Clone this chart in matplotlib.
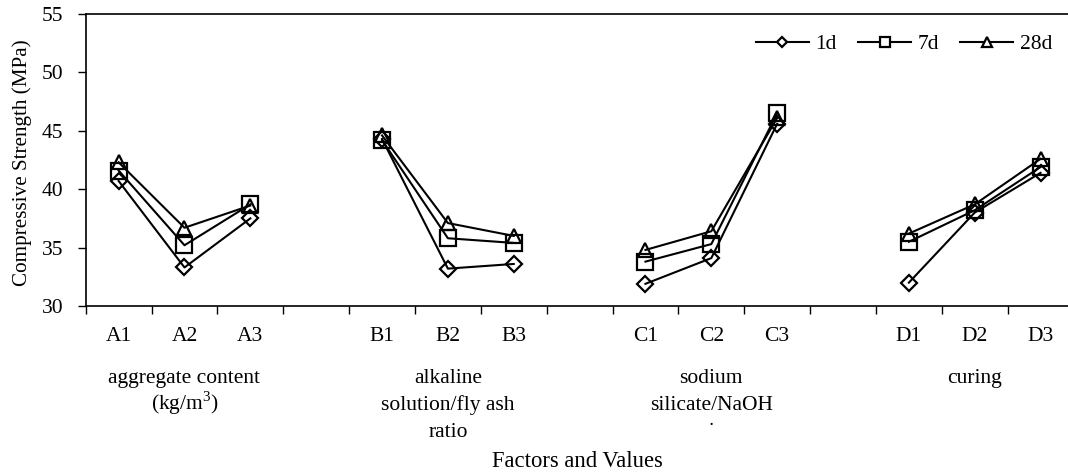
import numpy as np
import matplotlib
matplotlib.use('Agg')
import matplotlib.pyplot as plt
from matplotlib.ticker import FixedLocator, NullFormatter

plt.rcParams['font.family'] = ['Liberation Serif', 'DejaVu Serif']
plt.rcParams['mathtext.fontset'] = 'custom'
plt.rcParams['mathtext.rm'] = 'Liberation Serif'

# factor levels, 3 per factor, with an empty slot between factors
levels = ['A1', 'A2', 'A3', 'B1', 'B2', 'B3', 'C1', 'C2', 'C3', 'D1', 'D2', 'D3']
factors = [['aggregate content', '(kg/m$^3$)'],
           ['alkaline', 'solution/fly ash', 'ratio'],
           ['sodium', 'silicate/NaOH', '\u02d9'],
           ['curing']]

# compressive strength (MPa) at each level
s1d = [40.7, 33.3, 37.5, 44.3, 33.2, 33.6, 31.9, 34.1, 45.6, 32.0, 38.0, 41.4]
s7d = [41.6, 35.2, 38.7, 44.2, 35.8, 35.4, 33.8, 35.3, 46.5, 35.5, 38.2, 41.9]
s28d = [42.3, 36.7, 38.6, 44.6, 37.1, 36.0, 34.8, 36.4, 46.1, 36.2, 38.7, 42.6]

series = [('1d', s1d, 'D', 8.0, 5.0), ('7d', s7d, 's', 11.5, 7.0), ('28d', s28d, '^', 10.5, 6.5)]

FS = 15.5

# x position of each level (one gap slot between factors)
xpos = np.array([i + i // 3 for i in range(len(levels))])

fig = plt.figure(figsize=(10.68, 4.75), dpi=100)
ax = fig.add_axes([85.7 / 1068, 1 - 306 / 475, (1073.5 - 85.7) / 1068, 292 / 475])

handles = []
for name, vals, mk, ms, lms in series:
    vals = np.array(vals)
    for g in range(4):
        idx = slice(3 * g, 3 * g + 3)
        ax.plot(xpos[idx], vals[idx], color='black', lw=1.5, marker=mk, ms=ms,
                mfc='none', mec='black', mew=1.6)
    h, = ax.plot([], [], color='black', lw=1.5, marker=mk, ms=lms, mfc='white',
                 mec='black', mew=1.6)
    handles.append(h)

ax.set_xlim(-0.5, 14.5)
ax.set_ylim(30, 55)
ax.set_yticks(np.arange(30, 56, 5))
ax.xaxis.set_major_locator(FixedLocator(np.arange(-0.5, 15, 1)))
ax.xaxis.set_major_formatter(NullFormatter())
ax.set_xticks(xpos, minor=True)
ax.set_xticklabels(levels, minor=True)
ax.tick_params(axis='x', which='major', direction='out', length=6, width=1)
ax.tick_params(axis='x', which='minor', length=0, pad=15, labelsize=FS)
ax.tick_params(axis='y', direction='out', length=6, width=1, pad=10, labelsize=FS)
for sp in ax.spines.values():
    sp.set_linewidth(1.2)

leg = ax.legend(handles, [s[0] for s in series], ncol=3, frameon=False, fontsize=FS,
                handlelength=2.45, columnspacing=1.0, handletextpad=0.3,
                borderpad=0, borderaxespad=0,
                loc='upper right', bbox_to_anchor=(1052 / 1068, 1 - 34 / 475),
                bbox_transform=fig.transFigure)

# factor names under each group of levels
for g, lines in enumerate(factors):
    xc = ax.transData.transform((xpos[3 * g + 1], 0))[0] / 1068
    for k, txt in enumerate(lines):
        fig.text(xc, 1 - (383 + 27 * k) / 475, txt, ha='center', va='baseline', fontsize=FS)

fig.text(577 / 1068, 1 - 467 / 475, 'Factors and Values', ha='center', va='baseline', fontsize=16.3)
fig.text(22 / 1068, 1 - 163 / 475, 'Compressive Strength (MPa)', rotation=90,
         ha='center', va='center', fontsize=15.2)

fig.savefig('out.png', dpi=100)
